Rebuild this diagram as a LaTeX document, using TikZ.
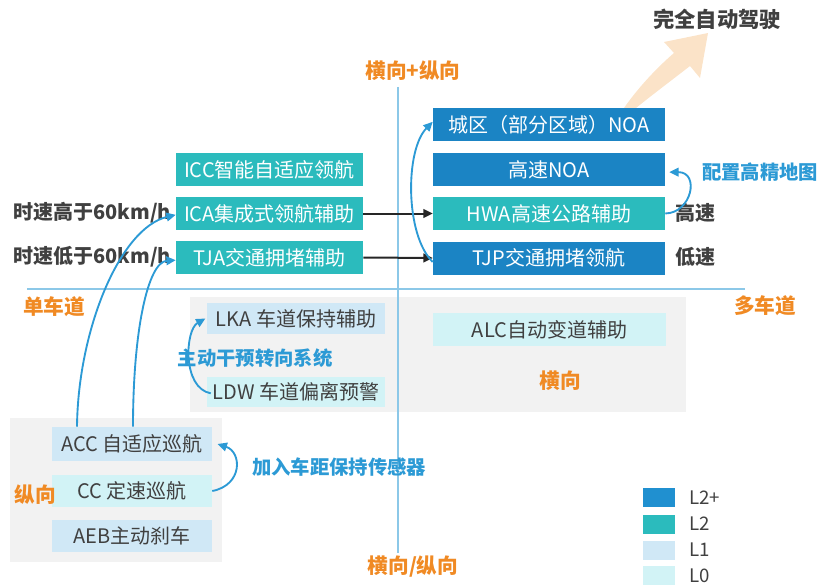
\documentclass[tikz,border=0pt]{standalone}
\usepackage{fontspec}
\setmainfont{Noto Sans CJK SC}
\usetikzlibrary{arrows.meta}
\definecolor{ltwo+}{HTML}{1B84C4}
\definecolor{legplus}{HTML}{2090D0}
\definecolor{ltwo}{HTML}{2BBBBD}
\definecolor{lone}{HTML}{D0E8F6}
\definecolor{lzero}{HTML}{D2F3F6}
\definecolor{panelgray}{HTML}{F2F2F2}
\definecolor{txtgray}{HTML}{404040}
\definecolor{arrblue}{HTML}{2C9AD5}
\definecolor{orangetxt}{HTML}{F08A24}
\definecolor{peach}{HTML}{FBE3C8}
\definecolor{axisblue}{HTML}{8CC8E8}
\tikzset{
  fbox/.style={inner sep=0pt, font=\fontsize{15}{18}\selectfont},
  darkbox/.style={fbox, fill=ltwo+, text=white, minimum width=232*0.75pt, minimum height=33*0.75pt},
  tealbox/.style={fbox, fill=ltwo, text=white, minimum height=33*0.75pt},
  lightbox/.style={fbox, text=txtgray, minimum height=32*0.75pt},
  orlabel/.style={text=orangetxt, font=\bfseries\fontsize{15.5}{18}\selectfont},
  bllabel/.style={text=arrblue, font=\bfseries\fontsize{14.5}{18}\selectfont},
  gylabel/.style={text=txtgray, font=\bfseries\fontsize{15}{18}\selectfont},
  barrow/.style={draw=arrblue, line width=1.4pt, -{Triangle[length=7pt,width=6.5pt]}},
  karrow/.style={draw=black!85, line width=1.5pt, -{Triangle[length=7pt,width=6.5pt]}},
  legsq/.style={minimum width=32*0.75pt, minimum height=19*0.75pt, inner sep=0pt},
  legtxt/.style={text=txtgray, anchor=west, inner sep=0pt, font=\fontsize{14}{16}\selectfont}
}
\begin{document}
\begin{tikzpicture}[x=0.75pt,y=-0.75pt]
\useasboundingbox (0,0) rectangle (818,585);
% panels
\fill[panelgray] (190,297) rectangle (686,412);
\fill[panelgray] (10,418) rectangle (222,562);
% axes
\coordinate (vtop) at (398,87);
\coordinate (vbot) at (398,553);
\coordinate (hl) at (27,289);
\coordinate (hr) at (745,289);
\draw[axisblue, line width=1.2pt] (vtop) -- (vbot);
\draw[axisblue, line width=1.2pt] (hl) -- (hr);
% peach arrow
\fill[peach] (624,108) .. controls (640,85) and (660,65) .. (674,53) -- (664,42) -- (708,33) -- (700,78) -- (690,66) .. controls (672,80) and (652,95) .. (636,108) -- cycle;
% top-right boxes
\node[darkbox] (noa1) at (549,124.5) {城区（部分区域）NOA};
\node[darkbox] (noa2) at (549,169.5) {高速NOA};
\node[darkbox, fill=ltwo] (hwa) at (549,213.5) {HWA高速公路辅助};
\node[darkbox] (tjp) at (549,258) {TJP交通拥堵领航};
% left teal boxes
\node[tealbox, minimum width=187*0.75pt] (icc) at (269.5,169.5) {ICC智能自适应领航};
\node[tealbox, minimum width=187*0.75pt] (ica) at (269.5,213.5) {ICA集成式领航辅助};
\node[tealbox, minimum width=187*0.75pt] (tja) at (269.5,257.5) {TJA交通拥堵辅助};
% lateral boxes
\node[lightbox, fill=lone, minimum width=178*0.75pt, minimum height=31*0.75pt] (lka) at (296,318.5) {LKA 车道保持辅助};
\node[lightbox, fill=lzero, minimum width=178*0.75pt, minimum height=30*0.75pt] (ldw) at (296,392) {LDW 车道偏离预警};
\node[lightbox, fill=lzero, minimum width=233*0.75pt, minimum height=33*0.75pt] (alc) at (549.5,329.5) {ALC自动变道辅助};
% longitudinal boxes
\node[lightbox, fill=lone, minimum width=160*0.75pt, minimum height=34*0.75pt] (acc) at (132,444) {ACC 自适应巡航};
\node[lightbox, fill=lzero, minimum width=160*0.75pt] (cc) at (132,491) {CC 定速巡航};
\node[lightbox, fill=lone, minimum width=160*0.75pt] (aeb) at (132,536) {AEB主动刹车};
% labels
\node[gylabel, font=\bfseries\fontsize{16}{18}\selectfont] (full) at (717,19) {完全自动驾驶};
\node[orlabel] (lvboth) at (413,71) {横向+纵向};
\node[orlabel] (lvor) at (413,567) {横向/纵向};
\node[orlabel] (single) at (54,307) {单车道};
\node[orlabel] (multi) at (765,306) {多车道};
\node[orlabel] (heng) at (560,381) {横向};
\node[orlabel] (zong) at (35,495) {纵向};
\node[gylabel, anchor=west, inner sep=0pt] (hi60) at (13,213) {时速高于60km/h};
\node[gylabel, anchor=west, inner sep=0pt] (lo60) at (13,257) {时速低于60km/h};
\node[gylabel] (gaosu) at (695,213) {高速};
\node[gylabel] (disu) at (695,257) {低速};
\node[bllabel, anchor=west, inner sep=0pt] (hdmap) at (702,172) {配置高精地图};
\node[bllabel] (steer) at (255,358) {主动干预转向系统};
\node[bllabel, anchor=west, inner sep=0pt] (sensor) at (252,467) {加入车距保持传感器};
% connectors
\draw[karrow] (ica.east) -- (hwa.west);
\draw[karrow] (tja.east) -- (tjp.west);
\draw[barrow] ([yshift=-3pt]tjp.west) .. controls (405,235) and (405,150) .. ([yshift=2pt]noa1.west);
\draw[barrow] (hwa.east) .. controls (692,213) and (700,172) .. ([xshift=3pt,yshift=-2pt]noa2.east);
\draw[barrow] ([xshift=3pt,yshift=-1pt]ldw.west) .. controls (182,388) and (185,330) .. ([xshift=-1pt]lka.west);
\draw[barrow] (cc.east) .. controls (243,485) and (242,452) .. ([xshift=4pt]acc.east);
\draw[barrow] ([xshift=-55*0.75pt]acc.north) .. controls (78,330) and (120,228) .. ([yshift=-1pt]ica.west);
\draw[barrow] ([xshift=1*0.75pt]acc.north) .. controls (133,330) and (148,262) .. ([yshift=-2pt]tja.west);
% legend
\node[legsq, fill=legplus] (sq1) at (659,497.5) {};
\node[legsq, fill=ltwo] (sq2) at (659,524) {};
\node[legsq, fill=lone] (sq3) at (659,550) {};
\node[legsq, fill=lzero] (sq4) at (659,575.5) {};
\node[legtxt] (t1) at (689,497.5) {L2+};
\node[legtxt] (t2) at (689,524) {L2};
\node[legtxt] (t3) at (689,550) {L1};
\node[legtxt] (t4) at (689,575.5) {L0};
\end{tikzpicture}
\end{document}
